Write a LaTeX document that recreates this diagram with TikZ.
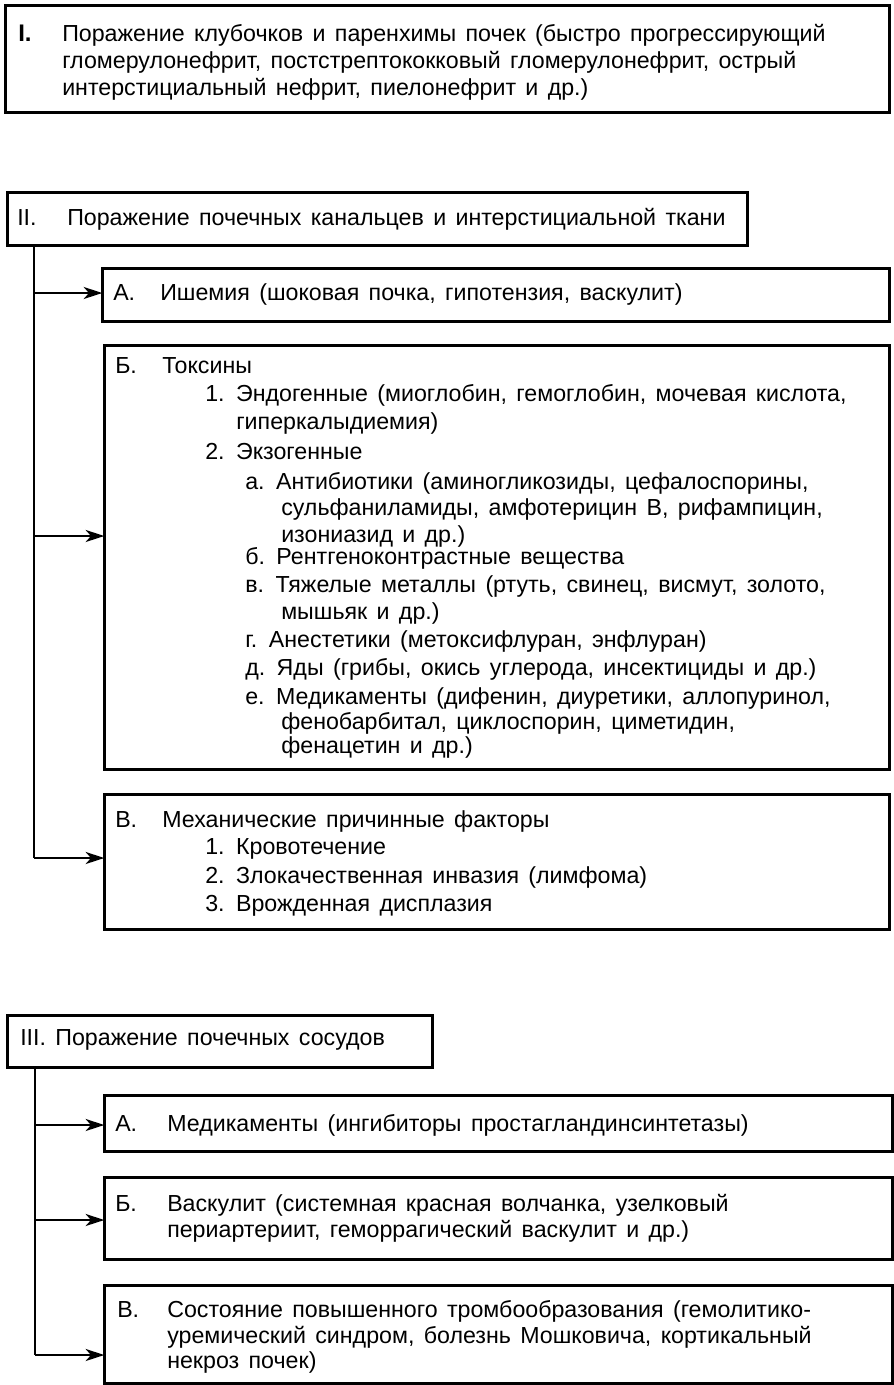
\documentclass[tikz,border=0pt]{standalone}
\usepackage{fontspec}
\setmainfont{Liberation Sans}[WordSpace=1.45]
\usetikzlibrary{arrows.meta}
\begin{document}
\begin{tikzpicture}[x=0.75pt,y=-0.75pt,
  box/.style={draw, line width=2.25pt, inner sep=0pt, anchor=north west},
  txt/.style={anchor=base west, inner sep=0pt, font=\fontsize{17.4pt}{20pt}\selectfont},
  conn/.style={line width=1.6pt},
  arr/.style={line width=1.6pt, -{Stealth[length=14pt,width=9pt,inset=4pt]}, shorten >=-1pt}
]
\useasboundingbox (0,0) rectangle (893,1385);
\def\u{0.75pt}
% ---- Box I
\node[box, minimum width=884*\u, minimum height=107*\u] (b1) at (3.5,4) {};
\node[txt, font=\fontsize{18pt}{20pt}\selectfont\bfseries] (b1l) at (18,41) {I.};
\node[txt] (b1a) at (62,41) {Поражение клубочков и паренхимы почек (быстро прогрессирующий};
\node[txt] (b1b) at (62,68) {гломерулонефрит, постстрептококковый гломерулонефрит, острый};
\node[txt] (b1c) at (62,95) {интерстициальный нефрит, пиелонефрит и др.)};
% ---- Box II
\node[box, minimum width=740*\u, minimum height=53*\u] (b2) at (5.5,191) {};
\node[txt] (b2l) at (17,225) {II.};
\node[txt] (b2t) at (67,225) {Поражение почечных канальцев и интерстициальной ткани};
% II.A
\node[box, minimum width=787*\u, minimum height=53*\u] (b2A) at (101,267) {};
\node[txt] (b2Al) at (113,300) {А.};
\node[txt] (b2At) at (160,300) {Ишемия (шоковая почка, гипотензия, васкулит)};
% II.B
\node[box, minimum width=785*\u, minimum height=424*\u] (b2B) at (103,344) {};
\node[txt] at (115,373) {Б.};
\node[txt] at (162,373) {Токсины};
\node[txt] at (205,401) {1. Эндогенные (миоглобин, гемоглобин, мочевая кислота,};
\node[txt] at (236,429) {гиперкалыдиемия)};
\node[txt] at (205,459) {2. Экзогенные};
\node[txt] at (245,489) {а. Антибиотики (аминогликозиды, цефалоспорины,};
\node[txt] at (281,515) {сульфаниламиды, амфотерицин В, рифампицин,};
\node[txt] at (281,542) {изониазид и др.)};
\node[txt] at (245,564) {б. Рентгеноконтрастные вещества};
\node[txt] at (245,592) {в. Тяжелые металлы (ртуть, свинец, висмут, золото,};
\node[txt] at (281,619) {мышьяк и др.)};
\node[txt] at (245,647) {г. Анестетики (метоксифлуран, энфлуран)};
\node[txt] at (245,675) {д. Яды (грибы, окись углерода, инсектициды и др.)};
\node[txt] at (245,704) {е. Медикаменты (дифенин, диуретики, аллопуринол,};
\node[txt] at (281,729) {фенобарбитал, циклоспорин, циметидин,};
\node[txt] at (281,753) {фенацетин и др.)};
% II.C
\node[box, minimum width=785*\u, minimum height=135*\u] (b2C) at (103,793) {};
\node[txt] at (115,827) {В.};
\node[txt] at (162,827) {Механические причинные факторы};
\node[txt] at (205,854) {1. Кровотечение};
\node[txt] at (205,883) {2. Злокачественная инвазия (лимфома)};
\node[txt] at (205,911) {3. Врожденная дисплазия};
% ---- Box III
\node[box, minimum width=425*\u, minimum height=52*\u] (b3) at (5.5,1014) {};
\node[txt] (b3t) at (20,1045) {III. Поражение почечных сосудов};
% III.A
\node[box, minimum width=788*\u, minimum height=56*\u] (b3A) at (103,1094) {};
\node[txt] at (115,1131) {А.};
\node[txt] at (167,1131) {Медикаменты (ингибиторы простагландинсинтетазы)};
% III.B
\node[box, minimum width=788*\u, minimum height=82*\u] (b3B) at (103,1176) {};
\node[txt] at (115,1211) {Б.};
\node[txt] at (167,1211) {Васкулит (системная красная волчанка, узелковый};
\node[txt] at (167,1237) {периартериит, геморрагический васкулит и др.)};
% III.C
\node[box, minimum width=788*\u, minimum height=98*\u] (b3C) at (103,1284) {};
\node[txt] at (117,1317) {В.};
\node[txt] at (167,1317) {Состояние повышенного тромбообразования (гемолитико-};
\node[txt] at (167,1343) {уремический синдром, болезнь Мошковича, кортикальный};
\node[txt] at (167,1368) {некроз почек)};
% ---- connectors II
\coordinate (k2a) at (34,293);
\coordinate (k2b) at (34,536);
\coordinate (k2c) at (34,858);
\draw[conn] (b2.south -| k2a) -- (k2c);
\draw[arr] (k2a) -- (k2a -| b2A.west);
\draw[arr] (k2b) -- (k2b -| b2B.west);
\draw[arr] (k2c) -- (k2c -| b2C.west);
% ---- connectors III
\coordinate (k3a) at (35,1125);
\coordinate (k3b) at (35,1220);
\coordinate (k3c) at (35,1355);
\draw[conn] (b3.south -| k3a) -- (k3c);
\draw[arr] (k3a) -- (k3a -| b3A.west);
\draw[arr] (k3b) -- (k3b -| b3B.west);
\draw[arr] (k3c) -- (k3c -| b3C.west);
\end{tikzpicture}
\end{document}
